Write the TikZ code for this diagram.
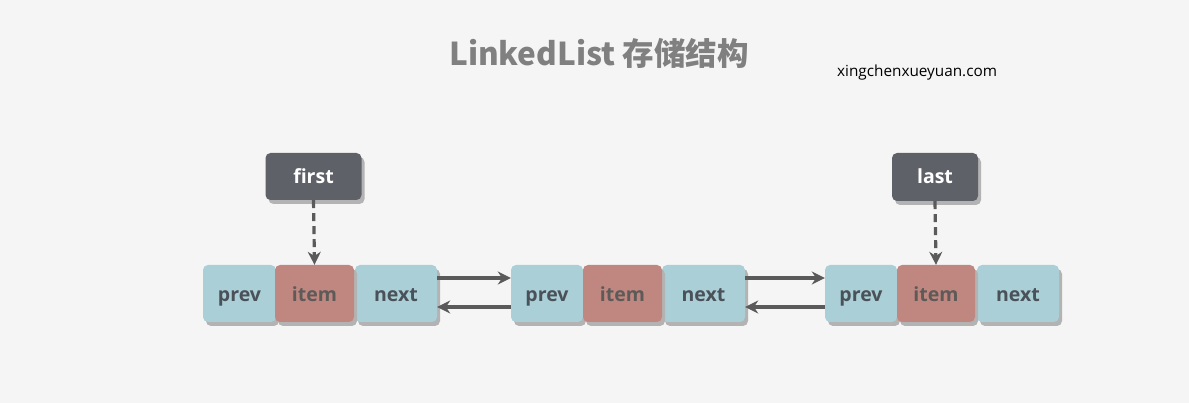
\documentclass[tikz,border=0pt]{standalone}
\usepackage{fontspec}
\setmainfont{Open Sans}
\newfontfamily\cjk{Noto Sans CJK SC}
\usetikzlibrary{arrows.meta}
\definecolor{bg}{HTML}{F5F5F5}
\definecolor{cellblue}{HTML}{AACFD6}
\definecolor{cellred}{HTML}{C08780}
\definecolor{celltext}{HTML}{4A5159}
\definecolor{itemtext}{HTML}{5E5A58}
\definecolor{ptrbox}{HTML}{5F6169}
\definecolor{shadowc}{HTML}{B3B3B3}
\definecolor{arrowc}{HTML}{5A5A5A}
\definecolor{titlec}{HTML}{808080}
\tikzset{
  x=1pt, y=-1pt,
  cellbase/.style={rounded corners=5pt, inner sep=0pt, font=\fontsize{19.5}{19.5}\selectfont\bfseries,
    text height=20pt, text depth=3pt,
    preaction={fill=shadowc, transform canvas={shift={(3pt,-4pt)}}}},
  bluecell/.style={cellbase, fill=cellblue, text=celltext},
  redcell/.style={cellbase, fill=cellred, text=itemtext},
  ptrcell/.style={cellbase, fill=ptrbox, text=white},
  link/.style={draw=arrowc, line width=3.4pt, -{Stealth[length=13pt,width=13pt]}},
  ptrlink/.style={draw=arrowc, line width=3.2pt, dash pattern=on 8pt off 5pt, -{Stealth[length=13pt,width=13pt]}}
}
\begin{document}
\begin{tikzpicture}
\fill[bg] (0,0) rectangle (1189,403);
\useasboundingbox (0,0) rectangle (1189,403);
\node[font=\cjk\fontsize{31.5}{31.5}\selectfont\bfseries, text=titlec] (title) at (599,53) {LinkedList 存储结构};
\node[font=\fontsize{15.3}{15.3}\selectfont, text=black, anchor=west, inner sep=0pt] (site) at (837,73) {xingchenxueyuan.com};
% group 1
\node[bluecell, minimum width=73pt, minimum height=57pt] (p1) at (239.5,293.5) {prev};
\node[bluecell, minimum width=82pt, minimum height=57pt] (n1) at (396,293.5) {next};
\node[redcell, minimum width=79pt, minimum height=57pt] (i1) at (314.5,293.5) {item};
% group 2
\node[bluecell, minimum width=72pt, minimum height=57pt] (p2) at (547,293.5) {prev};
\node[bluecell, minimum width=83pt, minimum height=57pt] (n2) at (703.5,293.5) {next};
\node[redcell, minimum width=79pt, minimum height=57pt] (i2) at (622.5,293.5) {item};
% group 3
\node[bluecell, minimum width=72pt, minimum height=57pt] (p3) at (861,293.5) {prev};
\node[bluecell, minimum width=82pt, minimum height=57pt] (n3) at (1018,293.5) {next};
\node[redcell, minimum width=78pt, minimum height=57pt] (i3) at (936,293.5) {item};
% pointers
\node[ptrcell, minimum width=96pt, minimum height=47pt, text height=17pt, text depth=3pt] (first) at (313.5,176.5) {first};
\node[ptrcell, minimum width=86pt, minimum height=48pt, text height=17pt, text depth=3pt] (last) at (935,177) {last};
\draw[ptrlink] (first.south) -- (i1.north);
\draw[ptrlink] (last.south) -- (i3.north);
% links
\draw[link] ([yshift=15.5pt]n1.east) -- ([yshift=15.5pt]p2.west);
\draw[link] ([yshift=-13.5pt]p2.west) -- ([yshift=-13.5pt]n1.east);
\draw[link] ([yshift=15.5pt]n2.east) -- ([yshift=15.5pt]p3.west);
\draw[link] ([yshift=-13.5pt]p3.west) -- ([yshift=-13.5pt]n2.east);
\end{tikzpicture}
\end{document}
